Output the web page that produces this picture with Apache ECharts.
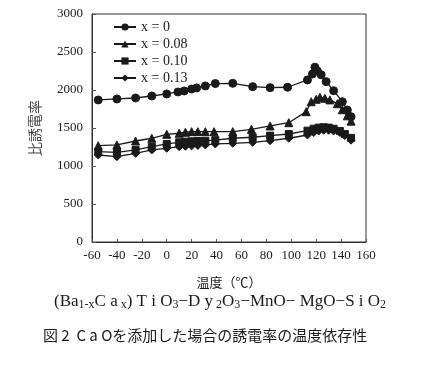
<!DOCTYPE html>
<html>
<head>
<meta charset="utf-8">
<script src="https://cdn.jsdelivr.net/npm/echarts@6/dist/echarts.min.js"></script>
<style>html,body{margin:0;padding:0;background:#fff}#c{width:434px;height:365px}</style>
</head>
<body>
<div id="c"></div>
<script>
// ---- data ----
const seriesNames = ['x = 0', 'x = 0.08', 'x = 0.10', 'x = 0.13'];
const xTicks = [-60, -40, -20, 0, 20, 40, 60, 80, 100, 120, 140, 160];
const yTicks = [0, 500, 1000, 1500, 2000, 2500, 3000];

const tempX0 = [-55, -40, -25, -12, 0, 9, 14, 20, 24, 31, 39, 53, 69, 83, 97, 113, 117, 119, 121, 124, 128, 134, 141, 145, 148];
const epsX0  = [1869, 1882, 1895, 1921, 1948, 1974, 1987, 2013, 2027, 2053, 2085, 2088, 2044, 2031, 2036, 2132, 2210, 2300, 2250, 2200, 2110, 1991, 1846, 1737, 1649];

const tempX08 = [-55, -40, -25, -12, 0, 10, 15, 20, 25, 31, 38, 53, 68, 83, 98, 112, 116, 120, 123, 127, 131, 137, 141, 145, 148];
const epsX08  = [1267, 1277, 1329, 1365, 1417, 1431, 1444, 1452, 1452, 1452, 1452, 1452, 1483, 1527, 1570, 1715, 1846, 1878, 1904, 1891, 1870, 1820, 1740, 1660, 1590];

const tempX10 = [-55, -40, -25, -12, 0, 10, 15, 20, 25, 31, 39, 53, 69, 83, 98, 113, 118, 122, 126, 130, 134, 139, 143, 148];
const epsX10  = [1189, 1180, 1211, 1254, 1290, 1312, 1320, 1325, 1329, 1332, 1340, 1365, 1378, 1399, 1421, 1465, 1490, 1505, 1510, 1505, 1490, 1460, 1420, 1370];

const tempX13 = [-55, -40, -25, -12, 0, 10, 15, 20, 25, 31, 39, 53, 69, 83, 98, 113, 118, 122, 126, 130, 134, 139, 143, 148];
const epsX13  = [1145, 1123, 1167, 1211, 1233, 1254, 1260, 1265, 1270, 1277, 1290, 1299, 1312, 1333, 1365, 1408, 1440, 1460, 1470, 1470, 1460, 1440, 1400, 1340];

const xTitle = '温度（℃）';
const yTitle = '比誘電率';
const caption = '図 2  C a Oを添加した場合の誘電率の温度依存性';

// ---- chart ----
const pair = (xs, ys) => xs.map((x, i) => [x, ys[i]]);
const symbols = ['circle', 'triangle', 'rect', 'diamond'];
const sizes = [8, 8, 7, 8];
const dataSets = [pair(tempX0, epsX0), pair(tempX08, epsX08), pair(tempX10, epsX10), pair(tempX13, epsX13)];
const ink = '#1a1a1a';
const serif = '"Liberation Serif", "DejaVu Serif", serif';

const chart = echarts.init(document.getElementById('c'), null, {renderer: 'canvas'});
chart.setOption({
  animation: false,
  backgroundColor: '#ffffff',
  grid: {left: 92, right: 68, top: 14, bottom: 123, show: true, borderColor: '#333', borderWidth: 1},
  legend: {
    left: 108, top: 15, orient: 'vertical', itemGap: 3, itemWidth: 22, itemHeight: 9,
    data: seriesNames,
    textStyle: {fontFamily: serif, fontSize: 14, color: ink}
  },
  xAxis: {
    type: 'value', min: xTicks[0], max: xTicks[xTicks.length - 1], interval: 20,
    name: xTitle, nameLocation: 'middle', nameGap: 34,
    nameTextStyle: {fontFamily: '"Noto Sans CJK JP"', fontSize: 13, color: ink},
    axisLine: {onZero: false, lineStyle: {color: '#333', width: 1}},
    axisTick: {inside: true, length: 3, lineStyle: {color: '#555'}},
    axisLabel: {fontFamily: serif, fontSize: 13, color: ink, margin: 7},
    splitLine: {show: false}
  },
  yAxis: {
    type: 'value', min: yTicks[0], max: yTicks[yTicks.length - 1], interval: 500,
    name: yTitle, nameLocation: 'middle', nameGap: 50, nameRotate: 90,
    nameTextStyle: {fontFamily: '"Noto Sans CJK JP"', fontSize: 14, color: '#444'},
    axisLine: {show: true, onZero: false, lineStyle: {color: '#333', width: 1}},
    axisTick: {inside: true, length: 4, lineStyle: {color: '#555'}},
    axisLabel: {fontFamily: serif, fontSize: 13, color: ink, margin: 9, formatter: v => String(v)},
    splitLine: {show: false}
  },
  series: dataSets.map((d, i) => ({
    name: seriesNames[i], type: 'line', data: d,
    symbol: symbols[i], symbolSize: sizes[i], showSymbol: true,
    lineStyle: {color: ink, width: 1.3},
    itemStyle: {color: ink, borderColor: ink},
    z: 4 - i
  })),
  graphic: [
    {
      type: 'text', left: 54, top: 292,
      style: {
        text: '(Ba{s|1-x}C a{s| x}) T i O{s|3}−D y{s| 2}O{s|3}−MnO− MgO−S i O{s|2}',
        rich: {
          s: {fontFamily: serif, fontSize: 12, lineHeight: 4, verticalAlign: 'bottom', fill: ink}
        },
        fontFamily: serif, fontSize: 17, lineHeight: 19, fill: ink, verticalAlign: 'top'
      }
    },
    {
      type: 'text', left: 43, top: 328,
      style: {text: caption, fontFamily: '"Noto Sans CJK JP"', fontSize: 15, fill: ink}
    }
  ]
});
</script>
</body>
</html>
